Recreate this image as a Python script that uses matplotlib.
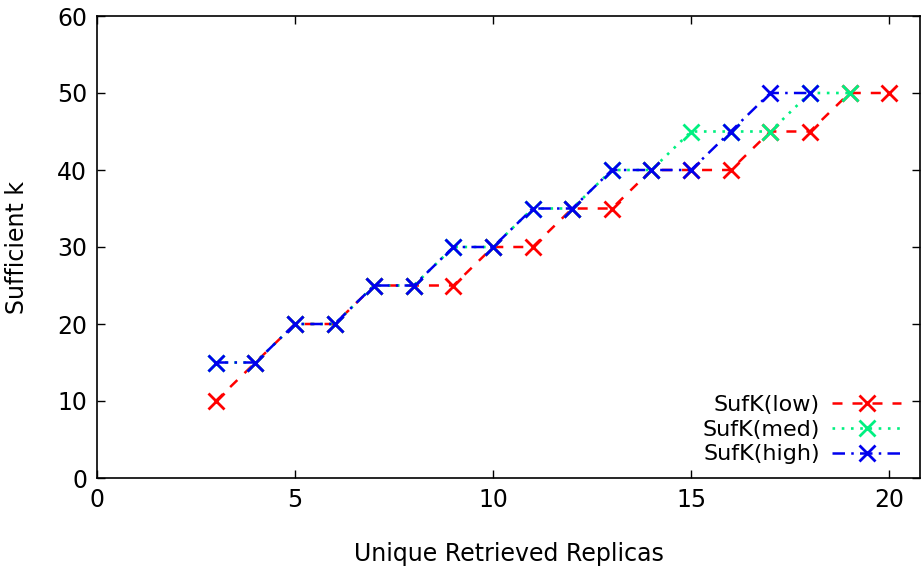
import matplotlib
matplotlib.use("Agg")
import matplotlib.pyplot as plt

x_low = [3, 4, 5, 6, 7, 8, 9, 10, 11, 12, 13, 14, 15, 16, 17, 18, 19, 20]
y_low = [10, 15, 20, 20, 25, 25, 25, 30, 30, 35, 35, 40, 40, 40, 45, 45, 50, 50]
x_med = [3, 4, 5, 6, 7, 8, 9, 10, 11, 12, 13, 14, 15, 16, 17, 18, 19]
y_med = [15, 15, 20, 20, 25, 25, 30, 30, 35, 35, 40, 40, 45, 45, 45, 50, 50]
x_high = [3, 4, 5, 6, 7, 8, 9, 10, 11, 12, 13, 14, 15, 16, 17, 18]
y_high = [15, 15, 20, 20, 25, 25, 30, 30, 35, 35, 40, 40, 40, 45, 50, 50]
labels = ["SufK(low)", "SufK(med)", "SufK(high)"]
xticks = [0, 5, 10, 15, 20]
yticks = [0, 10, 20, 30, 40, 50, 60]

plt.rcParams['font.family'] = ['DejaVu Sans']
fig = plt.figure(figsize=(9.23, 5.69), dpi=100)
ax = fig.add_axes([97/923, 1-478/569, (920-97)/923, (478-16)/569])

ms = 11
mew = 2
ax.plot(x_low, y_low, color='#ff0000', ls=(0, (4, 4)), lw=1.8, marker='x', ms=ms, mew=mew, label=labels[0])
ax.plot(x_med, y_med, color='#00f080', ls=(0, (1, 2.5)), lw=1.9, marker='x', ms=ms, mew=mew, label=labels[1])
ax.plot(x_high, y_high, color='#0000ee', ls=(0, (5, 2.5, 1, 2.5)), lw=1.8, marker='x', ms=ms, mew=mew, label=labels[2])

ax.set_xlim(0, 20.78)
ax.set_ylim(0, 60)
ax.set_xticks(xticks)
ax.set_yticks(yticks)
ax.tick_params(direction='in', top=True, right=True, length=6, width=1, labelsize=17, pad=7)
for s in ax.spines.values():
    s.set_linewidth(1.2)
ax.set_xlabel("Unique Retrieved Replicas", fontsize=17, labelpad=22)
ax.set_ylabel("Sufficient k", fontsize=17, labelpad=20)

leg = ax.legend(loc='lower right', bbox_to_anchor=(0.988, 0.01), frameon=False, markerfirst=False,
                fontsize=16, handlelength=3.1, handletextpad=0.55, labelspacing=0.22, borderaxespad=0)
for t in leg.get_texts():
    t.set_ha('right')

fig.savefig("out.png", dpi=100)
